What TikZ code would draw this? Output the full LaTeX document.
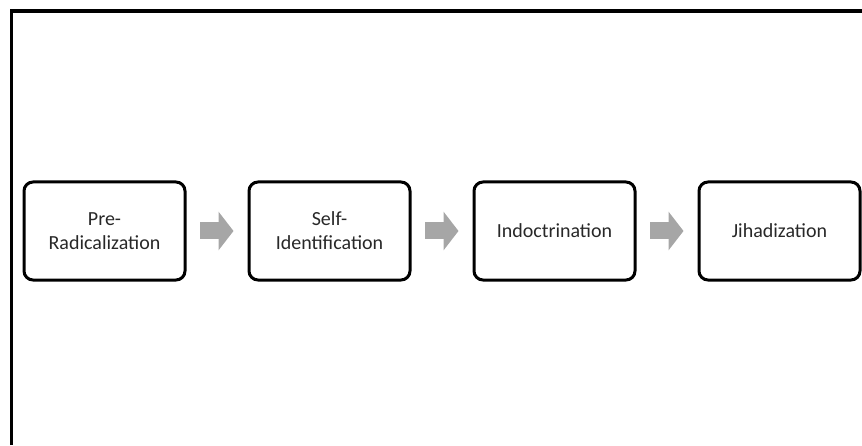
\documentclass[tikz,border=0pt]{standalone}
\usepackage{fontspec}
\setmainfont{Carlito}
\usepackage{xcolor}
\usetikzlibrary{positioning,arrows.meta}
\definecolor{arrowgray}{RGB}{166,166,166}
\definecolor{textgray}{RGB}{40,40,40}

\begin{document}
\begin{tikzpicture}[x=1pt, y=1pt,
	stagebox/.style={draw, line width=3pt, rounded corners=9pt, minimum width=161pt, minimum height=98pt, outer sep=0pt, align=center, text=textgray, font=\fontsize{20}{24}\selectfont},
	flowarrow/.style={arrowgray, line width=17pt, -{Triangle[length=15pt, width=38pt]}, shorten <=15pt, shorten >=15.5pt}]
		\useasboundingbox (0,0) rectangle (862,445);
		% frame, cut off at right and bottom
		\draw[line width=3.5pt] (11.5,0) |- (862,434);
		\node[stagebox] (pre) at (104.5,214) {Pre-\\Radicalization};
		\node[stagebox, right=64pt of pre] (self) {Self-\\Identification};
		\node[stagebox, right=64pt of self] (indoc) {Indoctrination};
		\node[stagebox, right=64pt of indoc] (jihad) {Jihadization};
		\draw[flowarrow] (pre.east) to (self.west);
		\draw[flowarrow] (self.east) to (indoc.west);
		\draw[flowarrow] (indoc.east) to (jihad.west);
	\end{tikzpicture}
\end{document}
